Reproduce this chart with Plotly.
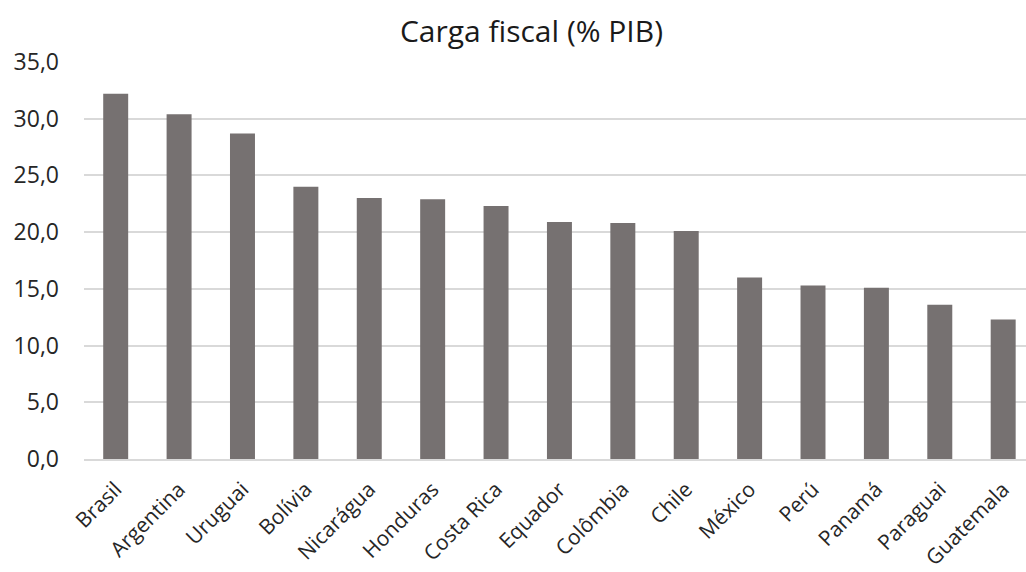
import plotly.graph_objects as go

countries = ["Brasil", "Argentina", "Uruguai", "Bolívia", "Nicarágua", "Honduras",
             "Costa Rica", "Equador", "Colômbia", "Chile", "México", "Perú",
             "Panamá", "Paraguai", "Guatemala"]
values = [32.2, 30.4, 28.7, 24.0, 23.0, 22.9, 22.3, 20.9, 20.8, 20.1, 16.0, 15.3, 15.1, 13.6, 12.3]
y_ticks = [0, 5, 10, 15, 20, 25, 30, 35]
y_tick_labels = ["0,0", "5,0", "10,0", "15,0", "20,0", "25,0", "30,0", "35,0"]

FONT = "Open Sans"

fig = go.Figure(go.Bar(x=countries, y=values, marker_color="#767171", marker_line_width=0))

fig.update_layout(
    width=1026, height=572,
    margin=dict(l=84, r=0, t=62, b=113),
    paper_bgcolor="white", plot_bgcolor="white",
    bargap=0.606,
    showlegend=False,
    title=dict(text="Carga fiscal (% PIB)", x=0.518, xanchor="center", y=0.945, yanchor="middle",
               font=dict(family=FONT, size=30, color="#1a1a1a")),
    font=dict(family=FONT, color="#262626"),
)
fig.update_xaxes(
    range=[-0.5, 14.36], tickangle=-45, tickfont=dict(size=21, family=FONT, color="#262626"),
    showline=True, linecolor="#d9d9d9", linewidth=1.5, ticks="", showgrid=False,
    ticklabelstandoff=8,
)
fig.update_yaxes(
    range=[0, 35], tickvals=y_ticks, ticktext=y_tick_labels,
    tickfont=dict(size=23, family=FONT, color="#262626"),
    showgrid=True, gridcolor="#d9d9d9", gridwidth=1.5, zeroline=False, ticks="",
    ticklabelstandoff=24,
)

fig.write_html("out.html")
